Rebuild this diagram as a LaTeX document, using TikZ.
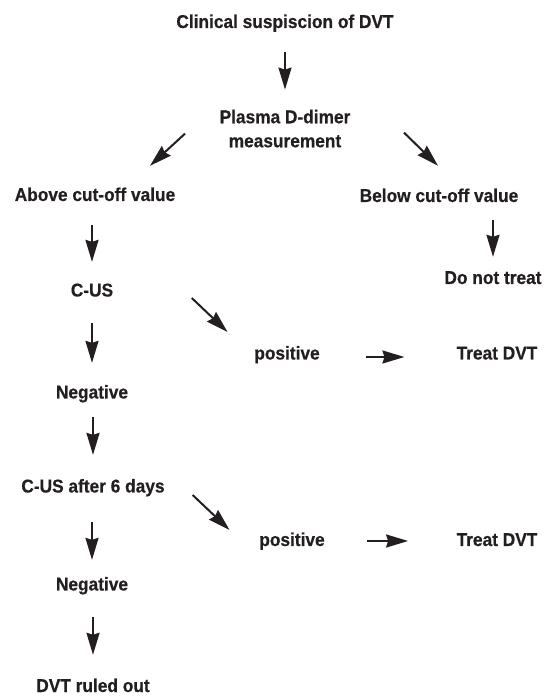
\documentclass[tikz,border=0pt]{standalone}
\usepackage{fontspec}
\setmainfont{Liberation Sans}[FakeStretch=0.93,BoldFeatures={FakeStretch=0.93,FakeBold=0.5}]
\usetikzlibrary{arrows.meta,calc}
\definecolor{ink}{HTML}{231F20}
\tikzset{
  txt/.style={font=\fontsize{18.6}{24}\selectfont\bfseries, text=ink, inner sep=0pt,
              text height=13.4pt, text depth=0pt, anchor=base},
  twoline/.style={font=\fontsize{18.6}{24}\selectfont\bfseries, text=ink, inner sep=0pt,
              align=center, anchor=north},
  arr/.style={draw=ink, line width=2pt, -{Stealth[length=22pt,width=13pt,inset=2pt]}}
}
\begin{document}
\begin{tikzpicture}[x=1pt,y=1pt]
\useasboundingbox[fill=white] (0,0) rectangle (545,696);
% nodes
\node[txt] (clin)   at (285,668)   {Clinical suspiscion of DVT};
\node[twoline] (plasma) at (285,586.4) {Plasma D-dimer\\measurement};
\node[txt] (above)  at (95,495)    {Above cut-off value};
\node[txt] (below)  at (439,494)   {Below cut-off value};
\node[txt] (donot)  at (493,412)   {Do not treat};
\node[txt] (cus)    at (92,399.5)  {C-US};
\node[txt] (pos1)   at (287,336.5) {positive};
\node[txt] (treat1) at (497,336.5) {Treat DVT};
\node[txt] (neg1)   at (92,297.5)  {Negative};
\node[txt] (cus6)   at (93,203.5)  {C-US after 6 days};
\node[txt] (pos2)   at (292,150)   {positive};
\node[txt] (treat2) at (497,150)   {Treat DVT};
\node[txt] (neg2)   at (92,105.5)  {Negative};
\node[txt] (ruled)  at (93,4)      {DVT ruled out};
% vertical connectors
\draw[arr] ([yshift=-24pt]clin.base) -- ([yshift=20pt]plasma.north);
\draw[arr] (above.base -| cus.north) ++(0,-24) -- ([yshift=21pt]cus.north);
\draw[arr] (below.base -| donot.north) ++(0,-18) -- ([yshift=13.6pt]donot.north);
\draw[arr] ([yshift=-26.5pt]cus.base) -- ([yshift=22pt]neg1.north);
\draw[arr] (neg1.base -| cus6.north) ++(0,-18.5) -- ([yshift=24pt]cus6.north);
\draw[arr] (cus6.base -| neg2.north) ++(0,-29.5) -- ([yshift=17pt]neg2.north);
\draw[arr] (neg2.base -| ruled.north) ++(0,-26.5) -- ([yshift=23.6pt]ruled.north);
% diagonal connectors
\draw[arr] ($(plasma.south)+(-100,14)$) -- ($(above.north)+(55,21.6)$);
\draw[arr] ($(plasma.south)+(119,15)$) -- ($(below.north)+(-1,22.6)$);
\draw[arr] ($(cus.base east)+(78.4,-1.5)$) -- ($(pos1.base west)+(-26.6,27.5)$);
\draw[arr] ($(cus6.base east)+(27.8,-2.5)$) -- ($(pos2.base west)+(-29.6,16)$);
% horizontal connectors
\draw[arr] ($(pos1.base east)+(46,2.5)$) -- ($(treat1.base west)+(-52,2.5)$);
\draw[arr] ($(pos2.base east)+(42.6,5)$) -- ($(treat2.base west)+(-48.3,5)$);
\end{tikzpicture}
\end{document}
